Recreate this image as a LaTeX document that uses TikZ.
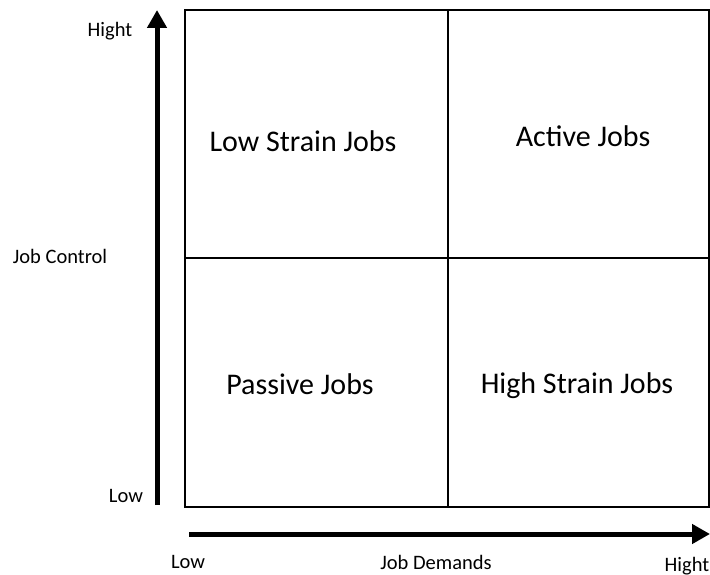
\documentclass[tikz,border=0pt]{standalone}
\usepackage{fontspec}
\setmainfont{Carlito}
\usetikzlibrary{arrows.meta}

\begin{document}
\begin{tikzpicture}[x=1pt, y=-1pt,
  quadlabel/.style={font=\fontsize{30}{36}\selectfont},
  axislabel/.style={font=\fontsize{20.5}{24}\selectfont},
  axisarrow/.style={line width=5pt, -{Triangle[length=18pt, width=19pt]}}]
\useasboundingbox (0, 0) rectangle (710, 575);

% Draw the four quadrants
\draw[line width=1.6pt] (185, 10) rectangle (709, 507);
\draw[line width=1.6pt] (448, 10) -- (448, 507);
\draw[line width=1.6pt] (185, 258) -- (709, 258);

% Quadrant names
\node[quadlabel] (lowstrain) at (303, 141) {Low Strain Jobs};
\node[quadlabel] (active) at (583, 136) {Active Jobs};
\node[quadlabel] (passive) at (300, 384) {Passive Jobs};
\node[quadlabel] (highstrain) at (577, 386) {High Strain Jobs};

% Axes
\coordinate (ctrlstart) at (157, 505);
\coordinate (ctrlend) at (157, 10);
\coordinate (demstart) at (189, 534);
\coordinate (demend) at (710, 534);
\draw[axisarrow] (ctrlstart) -- (ctrlend);
\draw[axisarrow] (demstart) -- (demend);

% Axis labels
\node[axislabel] (ctrlhigh) at (110, 31) {Hight};
\node[axislabel] (ctrlname) at (60, 256) {Job Control};
\node[axislabel] (ctrllow) at (126, 496) {Low};
\node[axislabel] (demlow) at (188, 562) {Low};
\node[axislabel] (demname) at (436, 562) {Job Demands};
\node[axislabel] (demhigh) at (687, 566) {Hight};
\end{tikzpicture}
\end{document}
